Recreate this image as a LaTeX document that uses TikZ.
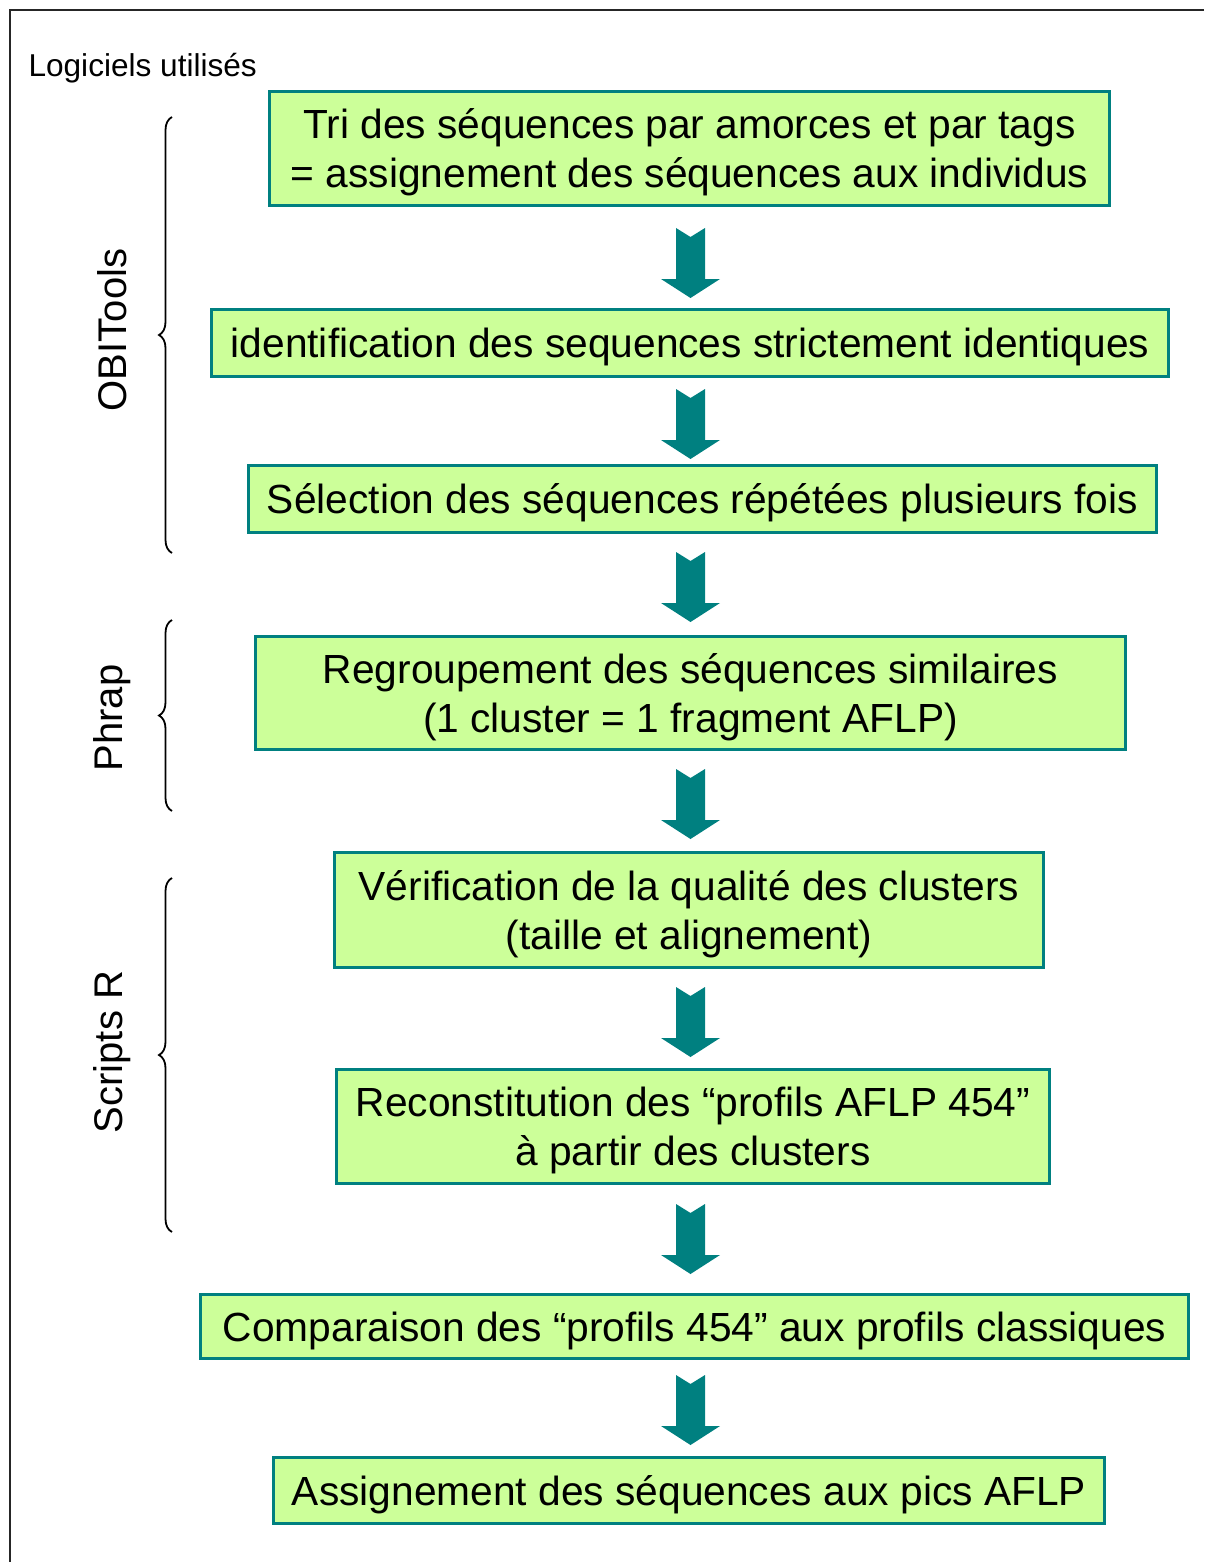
\documentclass[tikz,border=0pt]{standalone}
\usepackage{fontspec}
\setmainfont{Liberation Sans}
\usetikzlibrary{decorations.pathreplacing}
\definecolor{teal}{HTML}{008080}
\definecolor{boxfill}{HTML}{CCFF99}
\tikzset{
  stepbox/.style={draw=teal, line width=3pt, fill=boxfill, inner sep=0pt},
  boxtext/.style={align=center, inner sep=0pt, yshift=-4pt,
    font=\fontsize{40.7}{49}\selectfont},
  lbl/.style={rotate=90, font=\fontsize{40}{48}\selectfont},
  brc/.style={decorate, decoration={brace, amplitude=13pt}, line width=1.8pt},
  pics/blockarrow/.style={code={
    \fill[teal] (-14.5,0) -- (0,9) -- (14.5,0) -- (14.5,51) -- (29.5,51) -- (0,70)
      -- (-29.5,51) -- (-14.5,51) -- cycle;}}
}
\begin{document}
\begin{tikzpicture}[x=1pt,y=-1pt]
\useasboundingbox (0,0) rectangle (1204,1562);
\fill[white] (0,0) rectangle (1204,1562);
% frame
\coordinate (ftop) at (1204,10);
\coordinate (fcorner) at (10,10);
\coordinate (fbot) at (10,1562);
\draw[line width=2pt, black!85] (ftop) -- (fcorner) -- (fbot);

\node[anchor=west, font=\fontsize{31.6}{38}\selectfont] (title) at (25,68) {Logiciels utilisés};

\node[stepbox, minimum width=840, minimum height=114] (b1) at (689.5,148.5) {};
\node[boxtext] (t1) at (b1.center)
  {Tri des séquences par amorces et par tags\\= assignement des séquences aux individus};
\node[stepbox, minimum width=957, minimum height=67] (b2) at (690,343) {};
\node[boxtext] (t2) at (b2.center)
  {identification des sequences strictement identiques};
\node[stepbox, minimum width=908, minimum height=67] (b3) at (702.5,499) {};
\node[boxtext] (t3) at (b3.center)
  {Sélection des séquences répétées plusieurs fois};
\node[stepbox, minimum width=870, minimum height=113] (b4) at (690.5,693) {};
\node[boxtext] (t4) at (b4.center)
  {Regroupement des séquences similaires\\(1 cluster = 1 fragment AFLP)};
\node[stepbox, minimum width=709, minimum height=115] (b5) at (689,910) {};
\node[boxtext] (t5) at (b5.center)
  {Vérification de la qualité des clusters\\(taille et alignement)};
\node[stepbox, minimum width=713, minimum height=114] (b6) at (693,1126.5) {};
\node[boxtext] (t6) at (b6.center)
  {Reconstitution des “profils AFLP 454”\\à partir des clusters};
\node[stepbox, minimum width=988, minimum height=64] (b7) at (694.5,1326.5) {};
\node[boxtext] (t7) at (b7.center)
  {Comparaison des “profils 454” aux profils classiques};
\node[stepbox, minimum width=831, minimum height=66] (b8) at (689,1490.5) {};
\node[boxtext] (t8) at (b8.center)
  {Assignement des séquences aux pics AFLP};

% block arrows
\pic at (690.5,228) {blockarrow};
\pic at (690.5,389) {blockarrow};
\pic at (690.5,552) {blockarrow};
\pic at (690.5,769) {blockarrow};
\pic at (690.5,987) {blockarrow};
\pic at (690.5,1204) {blockarrow};
\pic at (690.5,1375) {blockarrow};

% braces
\coordinate (o1) at (172,553); \coordinate (o2) at (172,117);
\coordinate (p1) at (172,811); \coordinate (p2) at (172,620);
\coordinate (s1) at (172,1232); \coordinate (s2) at (172,878);
\draw[brc] (o1) -- (o2);
\draw[brc] (p1) -- (p2);
\draw[brc] (s1) -- (s2);

\node[lbl] (obi) at (112,330) {OBITools};
\node[lbl] (phrap) at (112,718) {Phrap};
\node[lbl] (scr) at (112,1052) {Scripts R};
\end{tikzpicture}
\end{document}
